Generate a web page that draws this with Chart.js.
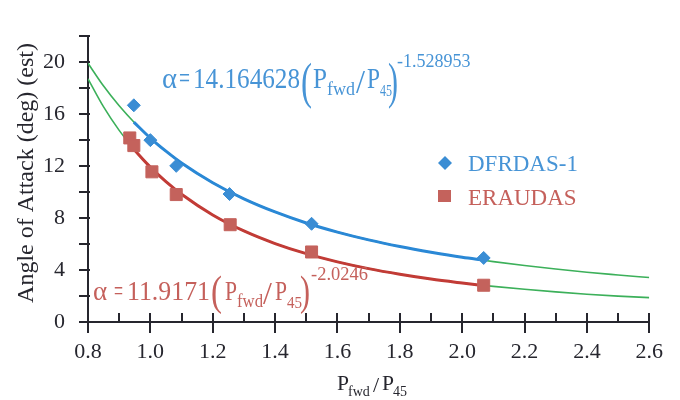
<!DOCTYPE html>
<html>
<head>
<meta charset="utf-8">
<script src="https://cdn.jsdelivr.net/npm/chart.js@4.4.1/dist/chart.umd.min.js"></script>
<style>
  html, body { margin: 0; padding: 0; background: #fff; }
  #wrap { width: 680px; height: 400px; }
</style>
</head>
<body>
<div id="wrap"><canvas id="aoaChart"></canvas></div>
<script>
// measured points
var dfrdasX = [0.947, 1.0, 1.083, 1.254, 1.517, 2.069];
var dfrdasY = [16.68, 14.0, 12.02, 9.85, 7.56, 4.93];
var eraudasX = [0.934, 0.947, 1.005, 1.083, 1.256, 1.517, 2.069];
var eraudasY = [14.17, 13.58, 11.56, 9.81, 7.49, 5.39, 2.83];

// power-law fits (thin green = full range)
var fitX = [0.8, 0.85, 0.9, 0.95, 1.0, 1.05, 1.1, 1.2, 1.3, 1.4, 1.5, 1.6, 1.7, 1.8, 1.9, 2.0, 2.1, 2.2, 2.3, 2.4, 2.5, 2.6];
var dfrdasFitY = [19.92, 18.16, 16.64, 15.32, 14.16, 13.15, 12.24, 10.72, 9.48, 8.47, 7.62, 6.92, 6.32, 5.81, 5.37, 4.98, 4.65, 4.35, 4.08, 3.83, 3.62, 3.42];
var eraudasFitY = [18.72, 16.56, 14.75, 13.22, 11.92, 10.80, 9.83, 8.24, 7.01, 6.04, 5.26, 4.63, 4.11, 3.68, 3.31, 3.00, 2.74, 2.52, 2.32, 2.14, 1.99, 1.88];

// thick coloured part of each fit (over the measured range)
var dfrdasLineX = [0.947, 1.0, 1.05, 1.1, 1.2, 1.3, 1.4, 1.5, 1.6, 1.7, 1.8, 1.9, 2.0, 2.069];
var dfrdasLineY = [15.39, 14.16, 13.15, 12.24, 10.72, 9.48, 8.47, 7.62, 6.92, 6.32, 5.81, 5.37, 4.98, 4.76];
var eraudasLineX = [0.934, 0.95, 1.0, 1.05, 1.1, 1.2, 1.3, 1.4, 1.5, 1.6, 1.7, 1.8, 1.9, 2.0, 2.069];
var eraudasLineY = [13.68, 13.22, 11.92, 10.80, 9.83, 8.24, 7.01, 6.04, 5.26, 4.63, 4.11, 3.68, 3.31, 3.00, 2.80];

var xMin = 0.8, xMax = 2.6, xStep = 0.1;
var yMin = 0, yMax = 22, yStep = 2;
var seriesNames = ['DFRDAS-1', 'ERAUDAS'];

var BLUE = '#3a8dd4', BLUE_LINE = '#2a88d6', BLUE_TXT = '#4794d6';
var RED = '#c4625c', RED_LINE = '#c23b36', RED_TXT = '#c5605b';
var GREEN = '#3cb05a';
var INK = '#26262e';
var SERIF = '"Liberation Serif", "DejaVu Serif", serif';

function pts(xs, ys) {
  return xs.map(function (x, i) { return { x: x, y: ys[i] }; });
}

function curve(xs, ys, color, width) {
  return {
    type: 'line',
    data: pts(xs, ys),
    borderColor: color,
    borderWidth: width,
    pointRadius: 0,
    fill: false,
    showLine: true,
    cubicInterpolationMode: 'monotone'
  };
}

// draws a run of text pieces: [text, x, baseline, size, maxWidth]
function drawRuns(ctx, runs, color) {
  ctx.fillStyle = color;
  ctx.textAlign = 'left';
  ctx.textBaseline = 'alphabetic';
  runs.forEach(function (r) {
    ctx.font = r[3] + 'px ' + SERIF;
    ctx.fillText(r[0], r[1], r[2], r[4]);
  });
}

var decorPlugin = {
  id: 'decor',
  afterDraw: function (chart) {
    var ctx = chart.ctx;
    var xs = chart.scales.x, ys = chart.scales.y;
    var x0 = xs.getPixelForValue(xMin), y0 = ys.getPixelForValue(yMin);
    ctx.save();
    // tick marks
    ctx.strokeStyle = INK;
    ctx.lineWidth = 2;
    ctx.beginPath();
    for (var i = 0; i * yStep <= yMax; i++) {
      var py = Math.round(ys.getPixelForValue(i * yStep));
      ctx.moveTo(x0 - 9, py);
      ctx.lineTo(x0 + 2, py);
    }
    var n = Math.round((xMax - xMin) / xStep);
    for (var j = 0; j <= n; j++) {
      var px = Math.round(xs.getPixelForValue(xMin + j * xStep));
      ctx.moveTo(px, y0 - 9);
      ctx.lineTo(px, j % 2 === 0 ? y0 + 11 : y0);
    }
    ctx.stroke();

    // y title
    ctx.save();
    ctx.translate(33, 173);
    ctx.rotate(-Math.PI / 2);
    ctx.fillStyle = INK;
    ctx.font = '24px ' + SERIF;
    ctx.textAlign = 'center';
    ctx.fillText('Angle of Attack (deg) (est)', 0, 0, 267);
    ctx.restore();

    // x title
    drawRuns(ctx, [
      ['P', 337, 390, 22, 12],
      ['fwd', 348, 396, 14, 25],
      ['/', 373, 392, 22, 9],
      ['P', 382, 390, 22, 12],
      ['45', 393, 396, 14, 14]
    ], INK);

    // fit equations
    drawRuns(ctx, [
      ['\u03b1', 162, 88, 29, 15],
      ['=', 179, 88, 29, 11],
      ['14.164628', 193, 88, 29, 107],
      ['(', 301, 98, 50, 11],
      ['P', 313, 88, 29, 14],
      ['fwd', 327, 95, 18, 28],
      ['/', 356, 93, 34, 9],
      ['P', 367, 88, 29, 13],
      ['45', 380, 96, 17, 12],
      [')', 388, 98, 50, 10],
      ['-1.528953', 397, 67, 18, 75]
    ], BLUE_TXT);
    drawRuns(ctx, [
      ['\u03b1', 93, 300, 27, 17],
      ['=', 114, 300, 27, 9],
      ['11.9171', 127, 300, 27, 83],
      ['(', 211, 305, 42, 11],
      ['P', 225, 300, 27, 12],
      ['fwd', 237, 307, 18, 26],
      ['/', 263, 304, 32, 10],
      ['P', 275, 300, 27, 12],
      ['45', 287, 308, 17, 15],
      [')', 300, 305, 42, 10],
      ['-2.0246', 311, 280, 19, 57]
    ], RED_TXT);

    // legend
    ctx.fillStyle = BLUE;
    ctx.beginPath();
    ctx.moveTo(445, 156); ctx.lineTo(452, 163); ctx.lineTo(445, 170); ctx.lineTo(438, 163);
    ctx.closePath();
    ctx.fill();
    ctx.fillStyle = RED;
    ctx.fillRect(438, 190, 13, 12);
    drawRuns(ctx, [[seriesNames[0], 468, 171, 23, 114]], BLUE_TXT);
    drawRuns(ctx, [[seriesNames[1], 468, 205, 23, 115]], RED_TXT);
    ctx.restore();
  }
};

new Chart(document.getElementById('aoaChart'), {
  type: 'scatter',
  data: {
    datasets: [
      {
        label: seriesNames[0],
        data: pts(dfrdasX, dfrdasY),
        pointStyle: 'rectRot',
        pointRadius: 6.5,
        backgroundColor: BLUE,
        borderColor: BLUE,
        borderWidth: 1
      },
      {
        label: seriesNames[1],
        data: pts(eraudasX, eraudasY),
        pointStyle: 'rect',
        pointRadius: 8.5,
        backgroundColor: RED,
        borderColor: RED,
        borderWidth: 1
      },
      curve(dfrdasLineX, dfrdasLineY, BLUE_LINE, 3),
      curve(eraudasLineX, eraudasLineY, RED_LINE, 3),
      curve(fitX, dfrdasFitY, GREEN, 1.6),
      curve(fitX, eraudasFitY, GREEN, 1.6)
    ]
  },
  options: {
    responsive: true,
    maintainAspectRatio: false,
    animation: false,
    layout: { padding: { top: 7, right: 18, left: 0, bottom: 0 } },
    plugins: {
      legend: { display: false },
      tooltip: { enabled: false }
    },
    scales: {
      x: {
        type: 'linear',
        min: xMin,
        max: xMax,
        afterFit: function (s) { s.height = 78; },
        grid: { display: false, drawTicks: false },
        border: { display: true, color: INK, width: 2 },
        ticks: {
          stepSize: xStep,
          autoSkip: false,
          maxRotation: 0,
          padding: 17,
          color: INK,
          font: { family: SERIF, size: 22 },
          callback: function (v) {
            var k = Math.round(v * 10);
            return k % 2 === 0 ? (k / 10).toFixed(1) : '';
          }
        }
      },
      y: {
        min: yMin,
        max: yMax,
        afterFit: function (s) { s.width = 88; },
        grid: { display: false, drawTicks: false },
        border: { display: true, color: INK, width: 2 },
        ticks: {
          stepSize: yStep,
          autoSkip: false,
          padding: 23,
          color: INK,
          font: { family: SERIF, size: 22 },
          callback: function (v) { return v % 4 === 0 ? v : ''; }
        }
      }
    }
  },
  plugins: [decorPlugin]
});
</script>
</body>
</html>
